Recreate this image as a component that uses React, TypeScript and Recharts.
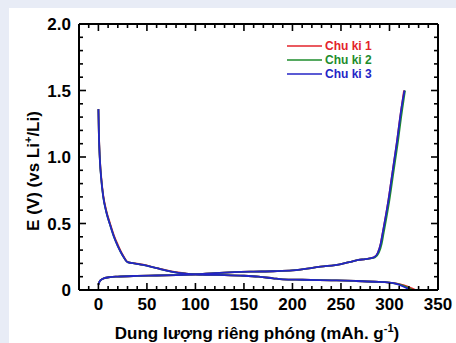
import { LineChart, Line, XAxis, YAxis, Legend } from 'recharts';

const cycleNames = ['Chu ki 1', 'Chu ki 2', 'Chu ki 3'];
const cycleColors = ['#e3232b', '#1e8c2c', '#2424c6'];

// discharge (lithiation) curves
const dis1Cap = [0, 0.5, 1.5, 3, 5, 8, 12, 16, 20, 25, 30, 38, 46, 60, 75, 90, 100, 115, 130, 150, 165, 180, 190, 210, 240, 265, 285, 300, 310, 318, 323, 327];
const dis1V = [1.36, 1.18, 0.99, 0.84, 0.71, 0.6, 0.5, 0.41, 0.34, 0.265, 0.212, 0.2, 0.19, 0.165, 0.14, 0.124, 0.117, 0.114, 0.112, 0.107, 0.1, 0.088, 0.08, 0.077, 0.073, 0.068, 0.062, 0.055, 0.045, 0.028, 0.012, 0];
const dis2Cap = [0, 0.5, 1.5, 3, 5, 8, 12, 16, 20, 25, 30, 38, 46, 60, 75, 90, 100, 115, 130, 150, 165, 180, 190, 210, 240, 265, 285, 300, 308, 315, 320, 324];
const dis2V = [1.36, 1.17, 0.98, 0.83, 0.7, 0.59, 0.49, 0.4, 0.33, 0.26, 0.21, 0.199, 0.189, 0.164, 0.139, 0.123, 0.117, 0.114, 0.112, 0.107, 0.1, 0.088, 0.08, 0.077, 0.073, 0.068, 0.062, 0.055, 0.046, 0.03, 0.013, 0];
const dis3Cap = [0, 0.5, 1.5, 3, 5, 8, 12, 16, 20, 25, 30, 38, 46, 60, 75, 90, 100, 115, 130, 150, 165, 180, 190, 210, 240, 265, 285, 300, 307, 313, 318, 321];
const dis3V = [1.36, 1.17, 0.98, 0.83, 0.7, 0.59, 0.49, 0.4, 0.33, 0.26, 0.21, 0.199, 0.189, 0.164, 0.139, 0.123, 0.117, 0.114, 0.112, 0.107, 0.1, 0.088, 0.08, 0.077, 0.073, 0.068, 0.062, 0.055, 0.046, 0.03, 0.013, 0];

// charge (delithiation) curves
const chg1Cap = [0, 1, 3, 6, 12, 20, 40, 60, 80, 100, 120, 140, 160, 180, 200, 229, 250, 260, 268, 275, 284, 288, 291, 293, 296, 299, 302, 305, 308, 311, 313, 315];
const chg1V = [0.04, 0.062, 0.078, 0.089, 0.097, 0.101, 0.106, 0.109, 0.112, 0.117, 0.127, 0.134, 0.138, 0.141, 0.147, 0.175, 0.195, 0.212, 0.226, 0.232, 0.245, 0.28, 0.35, 0.43, 0.55, 0.68, 0.83, 0.98, 1.13, 1.3, 1.4, 1.5];
const chg2Cap = [0, 1, 3, 6, 12, 20, 40, 60, 80, 100, 120, 140, 160, 180, 200, 229, 250, 260, 268, 275, 285, 289, 292, 294, 297, 300, 303, 306, 309, 312, 314, 316];
const chg2V = [0.04, 0.062, 0.078, 0.089, 0.097, 0.101, 0.106, 0.109, 0.112, 0.117, 0.127, 0.134, 0.138, 0.141, 0.147, 0.175, 0.195, 0.212, 0.226, 0.232, 0.245, 0.28, 0.35, 0.43, 0.55, 0.68, 0.83, 0.98, 1.13, 1.3, 1.4, 1.5];
const chg3Cap = [0, 1, 3, 6, 12, 20, 40, 60, 80, 100, 120, 140, 160, 180, 200, 229, 250, 260, 268, 275, 284, 288, 291, 293, 296, 299, 302, 305, 308, 311, 313, 315.5];
const chg3V = [0.04, 0.062, 0.078, 0.089, 0.097, 0.101, 0.106, 0.109, 0.112, 0.117, 0.127, 0.134, 0.138, 0.141, 0.147, 0.175, 0.195, 0.212, 0.226, 0.232, 0.245, 0.28, 0.35, 0.43, 0.55, 0.68, 0.83, 0.98, 1.13, 1.3, 1.4, 1.5];

const xTicks = [-20, -10, 0, 10, 20, 30, 40, 50, 60, 70, 80, 90, 100, 110, 120, 130, 140, 150, 160, 170, 180, 190, 200, 210, 220, 230, 240, 250, 260, 270, 280, 290, 300, 310, 320, 330, 340, 350];
const yTicks = [0, 0.1, 0.2, 0.3, 0.4, 0.5, 0.6, 0.7, 0.8, 0.9, 1.0, 1.1, 1.2, 1.3, 1.4, 1.5, 1.6, 1.7, 1.8, 1.9, 2.0];

const toPoints = (cap: number[], v: number[]) => cap.map((c, i) => ({ cap: c, v: v[i] }));

const series = [
  { name: cycleNames[0], color: cycleColors[0], dis: toPoints(dis1Cap, dis1V), chg: toPoints(chg1Cap, chg1V) },
  { name: cycleNames[1], color: cycleColors[1], dis: toPoints(dis2Cap, dis2V), chg: toPoints(chg2Cap, chg2V) },
  { name: cycleNames[2], color: cycleColors[2], dis: toPoints(dis3Cap, dis3V), chg: toPoints(chg3Cap, chg3V) },
];

const FONT = 'Arial, Liberation Sans, sans-serif';
const W = 447;
const H = 335;
const PLOT_L = 70;
const PLOT_R = 429;
const PLOT_T = 16;
const PLOT_B = 282;

const majorX = (v: number) => v % 50 === 0;
const majorY = (v: number) => Math.abs(v * 2 - Math.round(v * 2)) < 1e-6;

// labels only for the bottom axis
const BottomTick = (props: any) => {
  const { x, payload } = props;
  const v = payload.value;
  if (!majorX(v) || v < 0) return <g />;
  return (
    <text x={x} y={PLOT_B + 20} textAnchor="middle" fontFamily={FONT} fontWeight="bold" fontSize={17} fill="#000">
      {v}
    </text>
  );
};

// inward tick marks on top and bottom edges
const TopTick = (props: any) => {
  const { x, payload } = props;
  const len = majorX(payload.value) ? 7 : 4;
  return (
    <g>
      <line x1={x} x2={x} y1={PLOT_T} y2={PLOT_T + len} stroke="#000" strokeWidth={1.6} />
      <line x1={x} x2={x} y1={PLOT_B} y2={PLOT_B - len} stroke="#000" strokeWidth={1.6} />
    </g>
  );
};

// inward tick marks on left and right edges
const RightTick = (props: any) => {
  const { y, payload } = props;
  const len = majorY(payload.value) ? 7 : 4;
  return (
    <g>
      <line x1={PLOT_R} x2={PLOT_R - len} y1={y} y2={y} stroke="#000" strokeWidth={1.6} />
      <line x1={PLOT_L} x2={PLOT_L + len} y1={y} y2={y} stroke="#000" strokeWidth={1.6} />
    </g>
  );
};

const CycleLegend = () => (
  <div style={{ fontFamily: FONT, fontWeight: 'bold', fontSize: 12 }}>
    {series.map((s) => (
      <div key={s.name} style={{ display: 'flex', alignItems: 'center', height: 14 }}>
        <svg width={36} height={14}>
          <line x1={0} x2={35} y1={7} y2={7} stroke={s.color} strokeWidth={1.6} />
        </svg>
        <span style={{ color: s.color, marginLeft: 2, lineHeight: '14px' }}>{s.name}</span>
      </div>
    ))}
  </div>
);

export default function App() {
  return (
    <div style={{ position: 'absolute', left: 0, top: 0, width: 456, height: 343, background: '#e8ecf6' }}>
      <div style={{ position: 'absolute', left: 9, top: 8, width: W, height: H, background: '#fff' }}>
        <LineChart width={W} height={H} margin={{ top: PLOT_T - 1, right: W - PLOT_R - 1, bottom: 13, left: 20 }}>
          <XAxis dataKey="cap" type="number" domain={[-20, 350]} ticks={xTicks} interval={0} height={40} tickLine={false} tick={<BottomTick />} axisLine={{ stroke: '#000', strokeWidth: 2 }} allowDataOverflow />
          <XAxis xAxisId="top" orientation="top" dataKey="cap" type="number" domain={[-20, 350]} ticks={xTicks} interval={0} height={1} tickLine={false} tick={<TopTick />} axisLine={{ stroke: '#000', strokeWidth: 2 }} allowDataOverflow />
          <YAxis
            type="number"
            domain={[0, 2]}
            ticks={yTicks}
            interval={0}
            width={50}
            tickLine={false}
            axisLine={{ stroke: '#000', strokeWidth: 2 }}
            tick={{ fill: '#000', fontSize: 17, fontWeight: 'bold', fontFamily: FONT }}
            tickFormatter={(v: number) => (majorY(v) ? (v === 0 ? '0' : v.toFixed(1)) : '')}
          />
          <YAxis yAxisId="right" orientation="right" type="number" domain={[0, 2]} ticks={yTicks} interval={0} width={1} tickLine={false} tick={<RightTick />} axisLine={{ stroke: '#000', strokeWidth: 2 }} allowDataOverflow />
          {series.map((s) => [
            <Line key={s.name + '-dis'} data={s.dis} dataKey="v" type="monotone" stroke={s.color} strokeWidth={1.8} dot={false} isAnimationActive={false} />,
            <Line key={s.name + '-chg'} data={s.chg} xAxisId="top" yAxisId="right" dataKey="v" legendType="none" type="monotone" stroke={s.color} strokeWidth={1.8} dot={false} isAnimationActive={false} />,
          ])}
          <Legend layout="vertical" align="center" verticalAlign="middle" content={<CycleLegend />} wrapperStyle={{ top: 31, left: 278, width: 120 }} />
          <text x={248} y={331} textAnchor="middle" fontFamily={FONT} fontWeight="bold" fontSize={17} fill="#000">
            Dung lượng riêng phóng (mAh. g<tspan dy={-7} fontSize={11}>-1</tspan><tspan dy={7}>)</tspan>
          </text>
          <text x={30} y={163} transform="rotate(-90, 30, 163)" textAnchor="middle" fontFamily={FONT} fontWeight="bold" fontSize={17} fill="#000">
            E (V) (vs Li<tspan dy={-7} fontSize={11}>+</tspan><tspan dy={7}>/Li)</tspan>
          </text>
        </LineChart>
      </div>
    </div>
  );
}
